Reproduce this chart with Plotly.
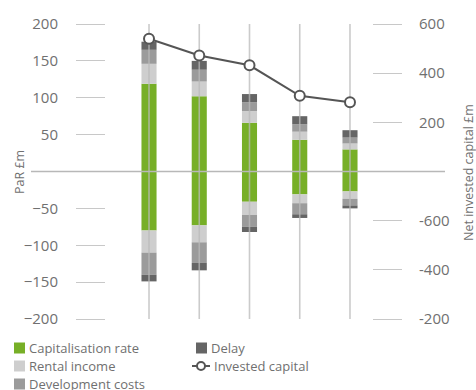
import plotly.graph_objects as go

# Scenario positions along the x axis (no labels are drawn for them)
scenarios = [1, 2, 3, 4, 5]

# PaR contributions, £m (upside / downside per driver)
cap_rate_up = [119, 102, 66, 43, 30]
cap_rate_down = [-80, -73, -41, -31, -27]
rental_up = [27, 20, 16, 11, 8]
rental_down = [-30, -23, -18, -12, -10]
dev_costs_up = [19, 16, 12, 10, 8]
dev_costs_down = [-30, -28, -16, -15, -9]
delay_up = [11, 12, 11, 11, 10]
delay_down = [-9, -10, -7, -5, -4]

# Net invested capital, £m
invested_capital = [540, 472, 432, 308, 282]

# Axis ticks
left_ticks = [200, 150, 100, 50, -50, -100, -150, -200]
right_tickvals = [600, 400, 200, -200, -400, -600]
right_ticktext = ["600", "400", "200", "-600", "-400", "-200"]

left_range = [-200, 200]
right_range = [-600, 600]
x_range = [0.144, 5.438]

series = [
    ("Capitalisation rate", cap_rate_up, cap_rate_down, "#77af27"),
    ("Rental income", rental_up, rental_down, "#cecece"),
    ("Development costs", dev_costs_up, dev_costs_down, "#9b9b9b"),
    ("Delay", delay_up, delay_down, "#656565"),
]

TEXT = "#707070"
FONT = "Open Sans"

W, H = 476, 390
ML, MR, MT, MB = 106, 104, 24, 71
PW, PH = W - ML - MR, H - MT - MB


def px(x):
    return (x - ML) / PW


def py(y):
    return (H - MB - y) / PH


fig = go.Figure()

for name, up, down, color in series:
    for vals in (up, down):
        fig.add_trace(go.Bar(
            x=scenarios, y=vals, name=name, width=0.3,
            marker=dict(color=color, line=dict(width=0)),
            showlegend=False, hoverinfo="skip",
        ))

# vertical guide through each scenario
gx, gy = [], []
for s in scenarios:
    gx += [s, s, None]
    gy += [left_range[0], left_range[1], None]
fig.add_trace(go.Scatter(
    x=gx, y=gy, mode="lines",
    line=dict(color="rgba(185,185,185,0.75)", width=1.6),
    showlegend=False, hoverinfo="skip",
))

fig.add_trace(go.Scatter(
    x=scenarios, y=invested_capital, yaxis="y2", name="Invested capital",
    mode="lines+markers",
    line=dict(color="#555555", width=2),
    marker=dict(symbol="circle", size=10, color="white",
                line=dict(color="#555555", width=2)),
    showlegend=False,
))

# zero line running past both axes
zero_y = (0 - left_range[0]) / (left_range[1] - left_range[0])
shapes = [dict(type="line", xref="paper", yref="paper",
               x0=px(31), x1=px(445), y0=zero_y, y1=zero_y,
               line=dict(color="#b8b8b8", width=1.5), layer="above")]

annotations = [
    dict(text="PaR £m", xref="paper", yref="paper", x=px(19), y=py(172),
         textangle=-90, showarrow=False, xanchor="center", yanchor="middle",
         font=dict(family=FONT, size=12.5, color=TEXT)),
    dict(text="Net invested capital £m", xref="paper", yref="paper",
         x=px(468), y=py(173), textangle=-90, showarrow=False,
         xanchor="center", yanchor="middle",
         font=dict(family=FONT, size=12.5, color=TEXT)),
]

# legend built from swatches and labels
legend_items = [
    ("Capitalisation rate", "#77af27", 14, 348),
    ("Rental income", "#cecece", 14, 366),
    ("Development costs", "#9b9b9b", 14, 384),
    ("Delay", "#656565", 196, 348),
]
for label, color, lx, ly in legend_items:
    shapes.append(dict(type="rect", xref="paper", yref="paper",
                       x0=px(lx), x1=px(lx + 11), y0=py(ly - 5.5), y1=py(ly + 5.5),
                       fillcolor=color, line=dict(width=0)))
    annotations.append(dict(text=label, xref="paper", yref="paper",
                            x=px(lx + 13), y=py(ly), showarrow=False,
                            xanchor="left", yanchor="middle",
                            font=dict(family=FONT, size=13, color=TEXT)))

shapes.append(dict(type="line", xref="paper", yref="paper",
                   x0=px(192), x1=px(210), y0=py(366), y1=py(366),
                   line=dict(color="#555555", width=2)))
shapes.append(dict(type="circle", xref="paper", yref="paper",
                   x0=px(197), x1=px(205), y0=py(370), y1=py(362),
                   fillcolor="white", line=dict(color="#555555", width=2)))
annotations.append(dict(text="Invested capital", xref="paper", yref="paper",
                        x=px(212), y=py(366), showarrow=False,
                        xanchor="left", yanchor="middle",
                        font=dict(family=FONT, size=13, color=TEXT)))

fig.update_layout(
    width=W, height=H,
    margin=dict(l=ML, r=MR, t=MT, b=MB, pad=0),
    paper_bgcolor="white", plot_bgcolor="white",
    barmode="relative",
    showlegend=False,
    font=dict(family=FONT, color=TEXT),
    xaxis=dict(range=x_range,
               showgrid=False, zeroline=False, showticklabels=False,
               showline=False, ticks=""),
    yaxis=dict(range=left_range, tickvals=left_ticks, showgrid=False,
               zeroline=False, showline=False, ticks="outside", ticklen=29,
               tickcolor="#c8c8c8", tickwidth=1, ticklabelstandoff=15,
               tickfont=dict(family=FONT, size=15, color=TEXT)),
    yaxis2=dict(range=right_range, tickvals=right_tickvals,
                ticktext=right_ticktext, overlaying="y", side="right",
                showgrid=False, zeroline=False, showline=False,
                ticks="outside", ticklen=29, tickcolor="#c8c8c8", tickwidth=1,
                ticklabelstandoff=14,
                tickfont=dict(family=FONT, size=15, color=TEXT)),
    shapes=shapes,
    annotations=annotations,
)

fig.write_html("out.html")
